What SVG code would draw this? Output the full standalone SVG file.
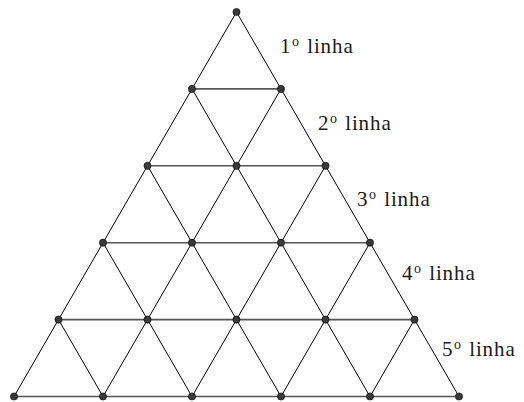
<svg xmlns="http://www.w3.org/2000/svg" width="524" height="402" viewBox="0 0 524 402">
<style>
.h{stroke:#555;stroke-width:1.6}
.s{stroke:#000;stroke-width:1}
.n circle{fill:#3a3a3a;stroke:#000;stroke-width:0.6}
text{font-family:"Liberation Serif","DejaVu Serif",serif;font-size:21px;fill:#1a1a1a}
.sup{font-size:14px}
.w{letter-spacing:0.9px}
</style>
<rect width="524" height="402" fill="#fff"/>
<g id="connectors">
<line class="h" x1="192" y1="88.9" x2="281" y2="88.9"/>
<line class="h" x1="147.5" y1="165.8" x2="325.5" y2="165.8"/>
<line class="h" x1="103" y1="242.7" x2="370" y2="242.7"/>
<line class="h" x1="58.5" y1="319.6" x2="414.5" y2="319.6"/>
<line class="h" x1="14" y1="396.5" x2="459" y2="396.5"/>
<line class="s" x1="14" y1="396.5" x2="236.5" y2="12"/>
<line class="s" x1="103" y1="396.5" x2="281" y2="88.9"/>
<line class="s" x1="192" y1="396.5" x2="325.5" y2="165.8"/>
<line class="s" x1="281" y1="396.5" x2="370" y2="242.7"/>
<line class="s" x1="370" y1="396.5" x2="414.5" y2="319.6"/>
<line class="s" x1="459" y1="396.5" x2="236.5" y2="12"/>
<line class="s" x1="370" y1="396.5" x2="192" y2="88.9"/>
<line class="s" x1="281" y1="396.5" x2="147.5" y2="165.8"/>
<line class="s" x1="192" y1="396.5" x2="103" y2="242.7"/>
<line class="s" x1="103" y1="396.5" x2="58.5" y2="319.6"/>
</g>
<g id="n0" class="n"><circle cx="236.5" cy="12" r="3.6"/></g>
<g id="n1" class="n"><circle cx="192" cy="88.9" r="3.6"/><circle cx="281" cy="88.9" r="3.6"/></g>
<g id="n2" class="n"><circle cx="147.5" cy="165.8" r="3.6"/><circle cx="236.5" cy="165.8" r="3.6"/><circle cx="325.5" cy="165.8" r="3.6"/></g>
<g id="n3" class="n"><circle cx="103" cy="242.7" r="3.6"/><circle cx="192" cy="242.7" r="3.6"/><circle cx="281" cy="242.7" r="3.6"/><circle cx="370" cy="242.7" r="3.6"/></g>
<g id="n4" class="n"><circle cx="58.5" cy="319.6" r="3.6"/><circle cx="147.5" cy="319.6" r="3.6"/><circle cx="236.5" cy="319.6" r="3.6"/><circle cx="325.5" cy="319.6" r="3.6"/><circle cx="414.5" cy="319.6" r="3.6"/></g>
<g id="n5" class="n"><circle cx="14" cy="396.5" r="3.6"/><circle cx="103" cy="396.5" r="3.6"/><circle cx="192" cy="396.5" r="3.6"/><circle cx="281" cy="396.5" r="3.6"/><circle cx="370" cy="396.5" r="3.6"/><circle cx="459" cy="396.5" r="3.6"/></g>
<g id="labels">
<text x="280" y="53">1<tspan class="sup" dx="1.5" dy="-7">o</tspan><tspan class="w" dx="2" dy="7"> linha</tspan></text>
<text x="318" y="129.5">2<tspan class="sup" dx="1.5" dy="-7">o</tspan><tspan class="w" dx="2" dy="7"> linha</tspan></text>
<text x="357" y="205.5">3<tspan class="sup" dx="1.5" dy="-7">o</tspan><tspan class="w" dx="2" dy="7"> linha</tspan></text>
<text x="402" y="279.5">4<tspan class="sup" dx="1.5" dy="-7">o</tspan><tspan class="w" dx="2" dy="7"> linha</tspan></text>
<text x="442" y="355.5">5<tspan class="sup" dx="1.5" dy="-7">o</tspan><tspan class="w" dx="2" dy="7"> linha</tspan></text>
</g>
</svg>
